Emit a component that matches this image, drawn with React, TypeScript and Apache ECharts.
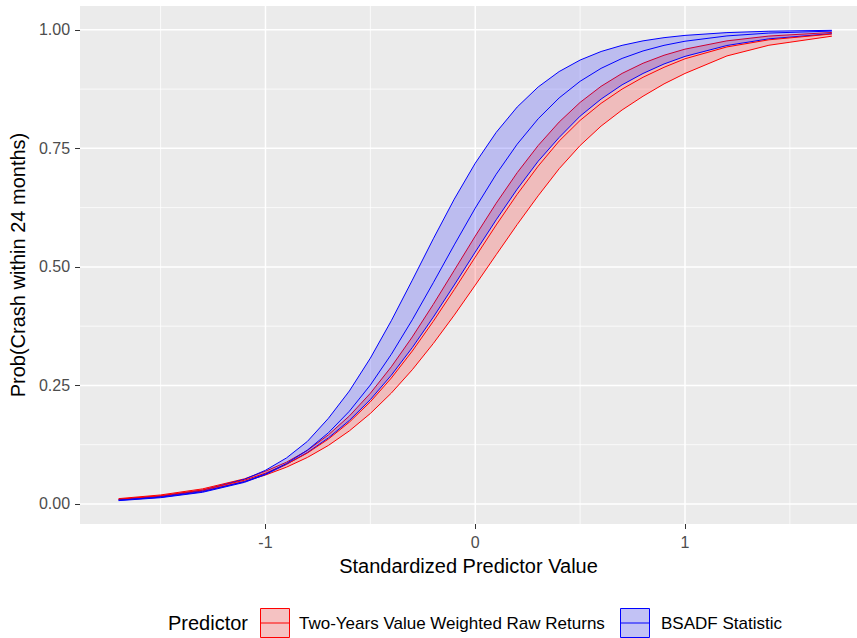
import React, { useEffect, useRef } from 'react';
import * as echarts from 'echarts';

// ---- data ----
const xValues = [-1.7, -1.5, -1.3, -1.1, -1.0, -0.9, -0.8, -0.7, -0.6, -0.5, -0.4, -0.3, -0.2, -0.1, 0, 0.1, 0.2, 0.3, 0.4, 0.5, 0.6, 0.7, 0.8, 0.9, 1.0, 1.2, 1.4, 1.7];

const redUpper = [0.0112, 0.0190, 0.0318, 0.0530, 0.0690, 0.0880, 0.1130, 0.1457, 0.1856, 0.2334, 0.2893, 0.3523, 0.4209, 0.4928, 0.5649, 0.6344, 0.6987, 0.7560, 0.8055, 0.8470, 0.8809, 0.9081, 0.9296, 0.9464, 0.9593, 0.9768, 0.9869, 0.9945];
const redFit = [0.0100, 0.0173, 0.0295, 0.0501, 0.0649, 0.0837, 0.1074, 0.1368, 0.1726, 0.2154, 0.2655, 0.3225, 0.3852, 0.4520, 0.5206, 0.5884, 0.6531, 0.7125, 0.7654, 0.8090, 0.8450, 0.8750, 0.9000, 0.9210, 0.9390, 0.9640, 0.9790, 0.9912];
const redLower = [0.0090, 0.0158, 0.0273, 0.0473, 0.0610, 0.0775, 0.0981, 0.1234, 0.1541, 0.1908, 0.2338, 0.2831, 0.3383, 0.3982, 0.4614, 0.5257, 0.5893, 0.6500, 0.7070, 0.7560, 0.7970, 0.8310, 0.8600, 0.8860, 0.9080, 0.9450, 0.9675, 0.9866];

const blueUpper = [0.0092, 0.0162, 0.0290, 0.0520, 0.0710, 0.0970, 0.1320, 0.1806, 0.2383, 0.3075, 0.3865, 0.4720, 0.5592, 0.6429, 0.7187, 0.7838, 0.8372, 0.8795, 0.9120, 0.9363, 0.9543, 0.9673, 0.9768, 0.9835, 0.9883, 0.9942, 0.9971, 0.9990];
const blueFit = [0.0078, 0.0142, 0.0260, 0.0470, 0.0633, 0.0852, 0.1136, 0.1501, 0.1956, 0.2508, 0.3156, 0.3884, 0.4665, 0.5464, 0.6239, 0.6955, 0.7588, 0.8124, 0.8564, 0.8915, 0.9188, 0.9397, 0.9555, 0.9673, 0.9760, 0.9872, 0.9932, 0.9974];
const blueLower = [0.0070, 0.0132, 0.0246, 0.0455, 0.0620, 0.0835, 0.1085, 0.1393, 0.1761, 0.2201, 0.2715, 0.3298, 0.3939, 0.4618, 0.5312, 0.5994, 0.6640, 0.7229, 0.7730, 0.8180, 0.8540, 0.8840, 0.9080, 0.9280, 0.9440, 0.9670, 0.9810, 0.9920];

const seriesNames = ['Two-Years Value Weighted Raw Returns', 'BSADF Statistic'];
const legendTitle = 'Predictor';
const xTitle = 'Standardized Predictor Value';
const yTitle = 'Prob(Crash within 24 months)';

const xTicks = [-1, 0, 1];
const yTicks = [0, 0.25, 0.5, 0.75, 1];
const xMinorGrid = [-1.5, -0.5, 0.5, 1.5];
const yMinorGrid = [0.125, 0.375, 0.625, 0.875];

const X_MIN = -1.884;
const X_MAX = 1.82;
const Y_MIN = -0.0423;
const Y_MAX = 1.0503;

const FONT = "'Liberation Sans', Arial, sans-serif";

function gridSeries(xs: number[], ys: number[], width: number) {
  return {
    type: 'custom',
    coordinateSystem: 'cartesian2d',
    silent: true,
    z: 1,
    clip: true,
    data: [[0.25, 0.5]],
    encode: { x: 0, y: 1 },
    renderItem: (_p: any, api: any) => {
      const children: any[] = [];
      xs.forEach((v) => {
        const a = api.coord([v, Y_MIN]);
        const b = api.coord([v, Y_MAX]);
        children.push({ type: 'line', shape: { x1: a[0], y1: a[1], x2: b[0], y2: b[1] }, style: { stroke: '#FFFFFF', lineWidth: width } });
      });
      ys.forEach((v) => {
        const a = api.coord([X_MIN, v]);
        const b = api.coord([X_MAX, v]);
        children.push({ type: 'line', shape: { x1: a[0], y1: a[1], x2: b[0], y2: b[1] }, style: { stroke: '#FFFFFF', lineWidth: width } });
      });
      return { type: 'group', children };
    },
  };
}

function ribbon(lower: number[], upper: number[], fill: string, z: number) {
  return {
    type: 'custom',
    coordinateSystem: 'cartesian2d',
    silent: true,
    z,
    clip: true,
    data: [[xValues[0], lower[0]]],
    encode: { x: 0, y: 1 },
    renderItem: (_p: any, api: any) => {
      const pts: number[][] = [];
      for (let i = 0; i < xValues.length; i++) pts.push(api.coord([xValues[i], upper[i]]));
      for (let i = xValues.length - 1; i >= 0; i--) pts.push(api.coord([xValues[i], lower[i]]));
      return { type: 'polygon', shape: { points: pts }, style: { fill, stroke: 'none' } };
    },
  };
}

function line(values: number[], color: string, z: number) {
  return {
    type: 'line',
    z,
    silent: true,
    showSymbol: false,
    symbol: 'none',
    data: xValues.map((x, i) => [x, values[i]]),
    lineStyle: { color, width: 1 },
  };
}

export default function App() {
  const ref = useRef<HTMLDivElement>(null);

  useEffect(() => {
    document.body.style.margin = '0';
    if (!ref.current) return;
    const chart = echarts.init(ref.current, null, { renderer: 'svg' });

    const legendY = 623;
    const legendItem = (x: number, textX: number, stroke: string, fill: string, label: string) => [
      { type: 'rect', shape: { x: x + 0.5, y: legendY - 14.5, width: 29, height: 29 }, style: { fill, stroke, lineWidth: 1 } },
      { type: 'line', shape: { x1: x + 1, y1: legendY, x2: x + 29, y2: legendY }, style: { stroke, lineWidth: 1 } },
      { type: 'text', x: textX, y: legendY, style: { text: label, fontSize: 17, fontFamily: FONT, fill: '#000', align: 'left', verticalAlign: 'middle' } },
    ];

    chart.setOption({
      animation: false,
      backgroundColor: '#FFFFFF',
      grid: { left: 78, right: 0, top: 6, bottom: 114, show: true, backgroundColor: '#EBEBEB', borderWidth: 0 },
      xAxis: {
        type: 'value',
        min: X_MIN,
        max: X_MAX,
        name: xTitle,
        nameLocation: 'middle',
        nameGap: 32,
        nameTextStyle: { fontSize: 20, fontFamily: FONT, color: '#000' },
        axisLine: { show: false, onZero: false },
        splitLine: { show: false },
        axisTick: { show: true, customValues: xTicks, length: 5, lineStyle: { color: '#333333', width: 1 } },
        axisLabel: {
          customValues: xTicks,
          margin: 10,
          fontSize: 16,
          fontFamily: FONT,
          color: '#4D4D4D',
          formatter: (v: number) => String(v),
        },
      },
      yAxis: {
        type: 'value',
        min: Y_MIN,
        max: Y_MAX,
        name: yTitle,
        nameLocation: 'middle',
        nameGap: 48,
        nameTextStyle: { fontSize: 20, fontFamily: FONT, color: '#000' },
        axisLine: { show: false, onZero: false },
        splitLine: { show: false },
        axisTick: { show: true, customValues: yTicks, length: 5, lineStyle: { color: '#333333', width: 1 } },
        axisLabel: {
          customValues: yTicks,
          margin: 10,
          fontSize: 16,
          fontFamily: FONT,
          color: '#4D4D4D',
          formatter: (v: number) => v.toFixed(2),
        },
      },
      series: [
        gridSeries(xMinorGrid, yMinorGrid, 0.75),
        gridSeries(xTicks, yTicks, 1.5),
        ribbon(redLower, redUpper, 'rgba(255,0,0,0.2)', 2),
        line(redLower, '#FF0000', 3),
        line(redUpper, '#FF0000', 3),
        ribbon(blueLower, blueUpper, 'rgba(0,0,255,0.2)', 4),
        line(blueLower, '#0000FF', 5),
        line(blueUpper, '#0000FF', 5),
        line(redFit, '#FF0000', 6),
        line(blueFit, '#0000FF', 7),
      ],
      graphic: [
        { type: 'text', x: 168, y: legendY, style: { text: legendTitle, fontSize: 20, fontFamily: FONT, fill: '#000', align: 'left', verticalAlign: 'middle' } },
        ...legendItem(260, 299, '#FF0000', '#F5C2C2', seriesNames[0]),
        ...legendItem(620, 661, '#0000FF', '#C2C2F5', seriesNames[1]),
      ],
    });

    return () => chart.dispose();
  }, []);

  return <div ref={ref} style={{ width: 857, height: 638 }} />;
}
